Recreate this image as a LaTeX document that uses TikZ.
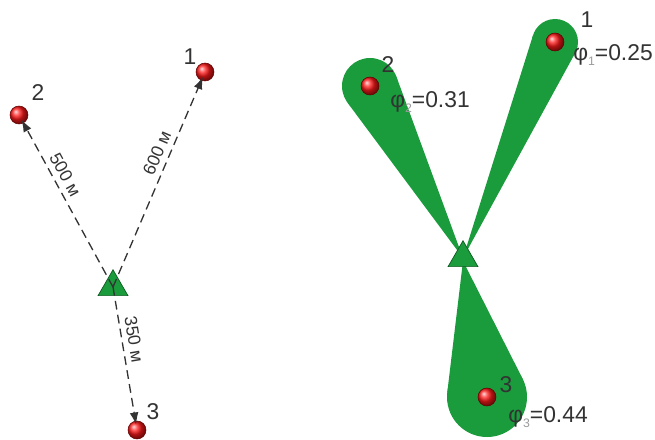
\documentclass[tikz,border=0pt]{standalone}
\usepackage{fontspec}
\setmainfont{Liberation Sans}
\usepackage{tikz}
\usetikzlibrary{arrows.meta,positioning,shapes.geometric,calc}
\definecolor{leaf}{HTML}{1A9B3C}
\definecolor{leafdark}{HTML}{0E5B22}
\definecolor{ink}{HTML}{333333}
\definecolor{subgray}{HTML}{9A9A9A}
\newcommand{\phiidx}[1]{φ\raisebox{-0.45ex}{\fontsize{7}{7}\selectfont\color{subgray}#1}}

\begin{document}
\begin{tikzpicture}[
      x=0.2mm, y=0.2mm,
      every node/.style={font=\fontsize{13}{15}\selectfont, text=ink},
      sensor/.style={draw=leafdark,fill=leaf,regular polygon,regular polygon sides=3,minimum size=0.69cm,inner sep=0pt},
      source/.style={circle,shading=ball,ball color=red!90!white,draw=red!40!black,line width=0.3pt,minimum size=0.36cm,inner sep=0pt},
      lobe/.style={circle,fill=leaf,inner sep=0pt,outer sep=0pt},
      dist/.style={draw=ink,dash pattern=on 5pt off 3pt,line width=0.75pt,-{Latex[length=7pt,width=5pt]},shorten >=3pt},
      dlabel/.style={font=\fontsize{10}{12}\selectfont,sloped,above,inner sep=3pt}
  ]
    \useasboundingbox (0,0) rectangle (655,439);

    % left: distances
    \node[sensor] (tL) at (113,152) {};
    \node[source] (p1L) at (205,367) {};
    \node[source] (p2L) at (19,324) {};
    \node[source] (p3L) at (137,9) {};

    \draw[dist] (tL.center) -- node[dlabel,pos=0.6] {600 м} (p1L.center);
    \draw[dist] (tL.center) -- node[dlabel,pos=0.62] {500 м} (p2L.center);
    \draw[dist] (tL.center) -- node[dlabel,pos=0.38] {350 м} (p3L.center);

    \node (n1L) at (190,382) {1};
    \node (n2L) at (38,346) {2};
    \node (n3L) at (153,27) {3};

    % right: lobes
    \coordinate (oR) at (463,181);
    \coordinate (oR3) at (463,178);
    \node[lobe,minimum size=0.92cm] (l1) at (555,397) {};
    \node[lobe,minimum size=1.12cm] (l2) at (370,353) {};
    \node[lobe,minimum size=1.6cm]  (l3) at (487,42) {};
    \fill[leaf] (oR) -- (tangent cs:node=l1,point={(oR)},solution=1)
      -- (tangent cs:node=l1,point={(oR)},solution=2) -- cycle;
    \fill[leaf] (oR) -- (tangent cs:node=l2,point={(oR)},solution=1)
      -- (tangent cs:node=l2,point={(oR)},solution=2) -- cycle;
    \fill[leaf] (oR3) -- (tangent cs:node=l3,point={(oR3)},solution=1)
      -- (tangent cs:node=l3,point={(oR3)},solution=2) -- cycle;

    \node[sensor] (tR) at (463,181) {};
    \node[source] (p1R) at (555,397) {};
    \node[source] (p2R) at (370,353) {};
    \node[source] (p3R) at (487,42) {};

    \node (n1R) at (587,419) {1};
    \node (n2R) at (388,374) {2};
    \node (n3R) at (506,54) {3};
    \node (f1) at (613,384) {\phiidx{1}=0.25};
    \node (f2) at (430,337) {\phiidx{2}=0.31};
    \node (f3) at (548,22) {\phiidx{3}=0.44};
  \end{tikzpicture}
\end{document}
